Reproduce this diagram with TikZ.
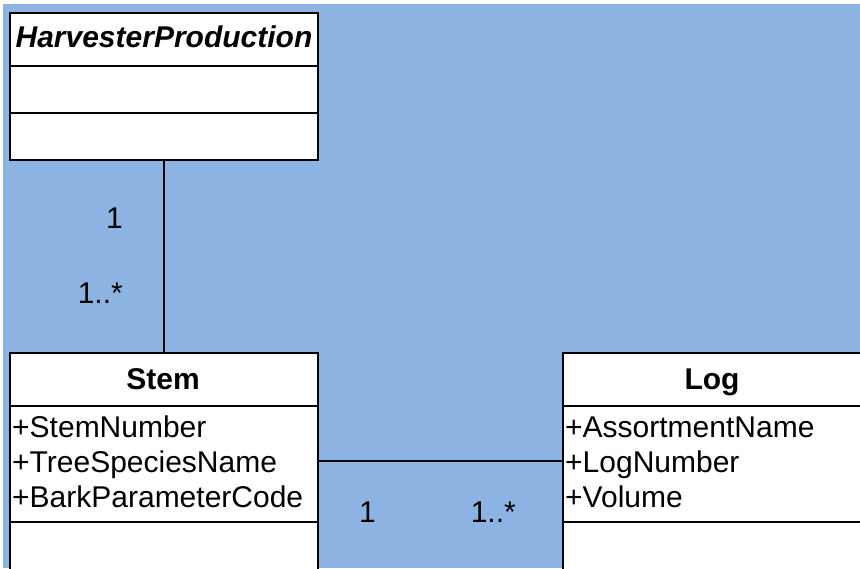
\documentclass[tikz,border=0pt]{standalone}
\usepackage{fontspec}
\setmainfont{Liberation Sans}
\definecolor{canvas}{RGB}{141,179,226}
\tikzset{
  classbox/.style={draw=black, line width=2.2pt, fill=white, anchor=north west, inner sep=0pt},
  sepline/.style={draw=black, line width=2.2pt},
  assoc/.style={draw=black, line width=1.4pt},
  title/.style={font=\fontsize{30}{36}\selectfont\bfseries, anchor=base, inner sep=0pt},
  attr/.style={font=\fontsize{30}{36}\selectfont, anchor=base west, inner sep=0pt},
  mult/.style={font=\fontsize{30}{36}\selectfont, anchor=base east, inner sep=0pt}
}
\begin{document}
\begin{tikzpicture}[x=1pt, y=-1pt]
  \useasboundingbox (0,0) rectangle (860,568);
  \clip (0,0) rectangle (860,568);
  \fill[canvas] (3,4) rectangle (860,568);

  % HarvesterProduction class
  \node[classbox, minimum width=308pt, minimum height=147pt] (hp) at (9,12) {};
  \node[title, font=\fontsize{30}{36}\selectfont\bfseries\itshape] (hpname) at (164,47) {HarvesterProduction};
  \draw[sepline] (hp.west |- 0,66) -- (hp.east |- 0,66);
  \draw[sepline] (hp.west |- 0,113) -- (hp.east |- 0,113);

  % Stem class
  \node[classbox, minimum width=308pt, minimum height=240pt] (stem) at (9,352) {};
  \node[title] (stemname) at (163,389) {Stem};
  \draw[sepline] (stem.west |- 0,406) -- (stem.east |- 0,406);
  \draw[sepline] (stem.west |- 0,522) -- (stem.east |- 0,522);
  \node[attr] (sa1) at (12,437) {+StemNumber};
  \node[attr] (sa2) at (12,472) {+TreeSpeciesName};
  \node[attr] (sa3) at (12,507) {+BarkParameterCode};

  % Log class
  \node[classbox, minimum width=320pt, minimum height=240pt] (log) at (562,352) {};
  \node[title] (logname) at (712,389) {Log};
  \draw[sepline] (log.west |- 0,406) -- (log.east |- 0,406);
  \draw[sepline] (log.west |- 0,522) -- (log.east |- 0,522);
  \node[attr] (la1) at (565,437) {+AssortmentName};
  \node[attr] (la2) at (565,472) {+LogNumber};
  \node[attr] (la3) at (565,507) {+Volume};

  % Associations
  \draw[assoc] (hp.south) -- (stem.north);
  \draw[assoc] (stem.east |- 0,461) -- (log.west |- 0,461);

  % Multiplicities
  \node[mult] (m1) at (123,228) {1};
  \node[mult] (m2) at (123,303) {1..*};
  \node[mult] (m3) at (376,522) {1};
  \node[mult] (m4) at (516,522) {1..*};
\end{tikzpicture}
\end{document}
